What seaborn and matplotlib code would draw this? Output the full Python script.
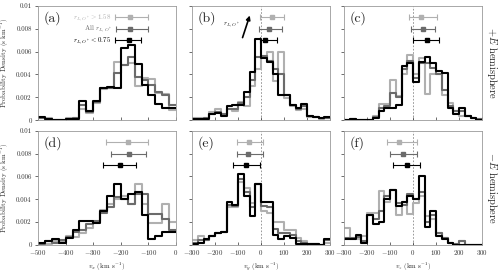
import numpy as np
import pandas as pd
import seaborn as sns
import matplotlib.pyplot as plt

# Histogramm-Werte (Wahrscheinlichkeitsdichte je Bin, Binbreite 25 km/s)
# Panel (a): v_x von -500 bis 0, +E Hemisphaere
a_light = [0.0002, 0.0002, 0.0, 0.0, 0.0002, 0.0002, 0.0010, 0.0006, 0.0015, 0.0027,
           0.0028, 0.0051, 0.0048, 0.0050, 0.0030, 0.0037, 0.0036, 0.0024, 0.0023, 0.0009]
a_dark = [0.0002, 0.0001, 0.0, 0.0, 0.0001, 0.0002, 0.0013, 0.0007, 0.0016, 0.0028,
          0.0028, 0.0041, 0.0048, 0.0055, 0.0038, 0.0035, 0.0031, 0.0025, 0.0022, 0.0013]
a_black = [0.0003, 0.0001, 0.0, 0.0, 0.0001, 0.0001, 0.0017, 0.0008, 0.0017, 0.0028,
           0.0029, 0.0028, 0.0063, 0.0066, 0.0049, 0.0031, 0.0022, 0.0014, 0.0011, 0.0011]

# Panel (b): v_y von -300 bis 300
b_light = [0.0002, 0.0002, 0.0002, 0.0007, 0.0010, 0.0005, 0.0010, 0.0008, 0.0016, 0.0012,
           0.0030, 0.0045, 0.0055, 0.0060, 0.0034, 0.0060, 0.0019, 0.0012, 0.0009, 0.0010,
           0.0003, 0.0003, 0.0001, 0.0002]
b_dark = [0.0001, 0.0001, 0.0002, 0.0005, 0.0007, 0.0005, 0.0010, 0.0010, 0.0015, 0.0020,
          0.0035, 0.0055, 0.0056, 0.0052, 0.0045, 0.0040, 0.0022, 0.0013, 0.0010, 0.0012,
          0.0004, 0.0003, 0.0002, 0.0002]
b_black = [0.0001, 0.0001, 0.0001, 0.0005, 0.0006, 0.0004, 0.0012, 0.0013, 0.0013, 0.0025,
           0.0042, 0.0071, 0.0054, 0.0051, 0.0040, 0.0022, 0.0022, 0.0013, 0.0011, 0.0014,
           0.0004, 0.0003, 0.0002, 0.0003]

# Panel (c): v_z von -300 bis 300
c_light = [0.0, 0.0001, 0.0, 0.0, 0.0, 0.0004, 0.0014, 0.0014, 0.0035, 0.0021,
           0.0040, 0.0057, 0.0040, 0.0054, 0.0023, 0.0040, 0.0040, 0.0022, 0.0015, 0.0008,
           0.0004, 0.0004, 0.0002, 0.0001]
c_dark = [0.0, 0.0001, 0.0, 0.0, 0.0, 0.0003, 0.0011, 0.0012, 0.0024, 0.0020,
          0.0045, 0.0052, 0.0037, 0.0050, 0.0050, 0.0046, 0.0040, 0.0026, 0.0012, 0.0008,
          0.0008, 0.0004, 0.0002, 0.0001]
c_black = [0.0, 0.0001, 0.0, 0.0, 0.0, 0.0002, 0.0008, 0.0011, 0.0011, 0.0013,
           0.0047, 0.0050, 0.0033, 0.0051, 0.0055, 0.0050, 0.0043, 0.0041, 0.0011, 0.0005,
           0.0011, 0.0004, 0.0002, 0.0]

# Panel (d): v_x, -E Hemisphaere
d_light = [0.0001, 0.0001, 0.0003, 0.0003, 0.0008, 0.0007, 0.0010, 0.0015, 0.0020, 0.0031,
           0.0036, 0.0040, 0.0043, 0.0036, 0.0053, 0.0036, 0.0019, 0.0019, 0.0036, 0.0020]
d_dark = [0.0001, 0.0003, 0.0002, 0.0004, 0.0007, 0.0011, 0.0013, 0.0018, 0.0021, 0.0028,
          0.0033, 0.0042, 0.0040, 0.0036, 0.0045, 0.0045, 0.0027, 0.0027, 0.0023, 0.0013]
d_black = [0.0002, 0.0003, 0.0005, 0.0002, 0.0006, 0.0013, 0.0021, 0.0021, 0.0019, 0.0030,
           0.0043, 0.0053, 0.0040, 0.0045, 0.0046, 0.0026, 0.0005, 0.0008, 0.0011, 0.0011]

# Panel (e): v_y, -E Hemisphaere
e_light = [0.0004, 0.0008, 0.0004, 0.0008, 0.0010, 0.0011, 0.0033, 0.0033, 0.0055, 0.0050,
           0.0037, 0.0053, 0.0030, 0.0028, 0.0020, 0.0020, 0.0013, 0.0013, 0.0006, 0.0003,
           0.0001, 0.0001, 0.0, 0.0002]
e_dark = [0.0002, 0.0004, 0.0004, 0.0008, 0.0010, 0.0011, 0.0035, 0.0034, 0.0058, 0.0046,
          0.0033, 0.0053, 0.0034, 0.0033, 0.0014, 0.0010, 0.0010, 0.0009, 0.0003, 0.0002,
          0.0001, 0.0001, 0.0, 0.0004]
e_black = [0.0001, 0.0002, 0.0005, 0.0008, 0.0010, 0.0011, 0.0038, 0.0035, 0.0062, 0.0043,
           0.0025, 0.0053, 0.0038, 0.0038, 0.0009, 0.0005, 0.0008, 0.0006, 0.0001, 0.0001,
           0.0001, 0.0001, 0.0, 0.0005]

# Panel (f): v_z, -E Hemisphaere
f_light = [0.0015, 0.0005, 0.0005, 0.0008, 0.0028, 0.0028, 0.0047, 0.0038, 0.0048, 0.0026,
           0.0038, 0.0027, 0.0037, 0.0043, 0.0025, 0.0023, 0.0010, 0.0006, 0.0002, 0.0001,
           0.0003, 0.0, 0.0, 0.0]
f_dark = [0.0006, 0.0006, 0.0007, 0.0003, 0.0026, 0.0023, 0.0030, 0.0043, 0.0048, 0.0037,
          0.0035, 0.0045, 0.0040, 0.0046, 0.0020, 0.0026, 0.0010, 0.0006, 0.0002, 0.0001,
          0.0003, 0.0, 0.0, 0.0]
f_black = [0.0005, 0.0005, 0.0009, 0.0002, 0.0026, 0.0018, 0.0020, 0.0040, 0.0048, 0.0034,
           0.0038, 0.0043, 0.0040, 0.0060, 0.0016, 0.0030, 0.0008, 0.0005, 0.0002, 0.0,
           0.0, 0.0, 0.0, 0.0]

# Mittelwerte mit Fehlerbalken [r > 1.58, alle, r < 0.75]
err_levels = [0.009, 0.008, 0.007]
a_mid = [-167, -167, -169]
a_lo = [-221, -217, -221]
a_hi = [-101, -101, -128]
b_mid = [47, 36, 17]
b_lo = [-4, -10, -4]
b_hi = [100, 90, 68]
c_mid = [35, 42, 59]
c_lo = [-16, -10, -1]
c_hi = [106, 96, 113]
d_mid = [-173, -170, -203]
d_lo = [-254, -236, -266]
d_hi = [-103, -110, -145]
e_mid = [-51, -55, -65]
e_lo = [-103, -106, -123]
e_hi = [7, 7, -4]
f_mid = [-61, -42, -25]
f_lo = [-112, -100, -86]
f_hi = [19, 19, 30]

panel_letters = ["(a)", "(b)", "(c)", "(d)", "(e)", "(f)"]
series_names = ["$r_{L,O^*} > 1.58$", "All $r_{L,O^*}$", "$r_{L,O^*} < 0.75$"]
xlabels = ["$v_x$ (km s$^{-1}$)", "$v_y$ (km s$^{-1}$)", "$v_z$ (km s$^{-1}$)"]
row_labels = ["$+E$ hemisphere", "$-E$ hemisphere"]
yticks = [0, 0.002, 0.004, 0.006, 0.008, 0.01]
ytick_labels = ["0", "0.002", "0.004", "0.006", "0.008", "0.01"]
xticks_x = [-500, -400, -300, -200, -100, 0]
xticks_yz = [-300, -200, -100, 0, 100, 200, 300]

colors = ["#b0b0b0", "#6b6b6b", "#000000"]

sns.set_style("ticks")
plt.rcParams["font.family"] = "serif"
plt.rcParams["font.serif"] = ["cmr10", "DejaVu Serif"]
plt.rcParams["mathtext.fontset"] = "cm"
plt.rcParams["axes.unicode_minus"] = False
plt.rcParams["axes.formatter.use_mathtext"] = True

fig = plt.figure(figsize=(5, 2.73), dpi=100)
lefts = [0.076, 0.384, 0.688]
bottoms = [0.56, 0.103]
w, h = 0.276, 0.418

hists = [[a_light, a_dark, a_black], [b_light, b_dark, b_black], [c_light, c_dark, c_black],
         [d_light, d_dark, d_black], [e_light, e_dark, e_black], [f_light, f_dark, f_black]]
errs = [(a_mid, a_lo, a_hi), (b_mid, b_lo, b_hi), (c_mid, c_lo, c_hi),
        (d_mid, d_lo, d_hi), (e_mid, e_lo, e_hi), (f_mid, f_lo, f_hi)]

for i in range(6):
    row, col = divmod(i, 3)
    ax = fig.add_axes([lefts[col], bottoms[row], w, h])
    if col == 0:
        xmin, xmax, xt = -500, 0, xticks_x
    else:
        xmin, xmax, xt = -300, 300, xticks_yz
    centers = np.arange(xmin, xmax, 25) + 12.5

    # Histogramme als Stufenlinie
    for vals, c in zip(hists[i], colors):
        df = pd.DataFrame({"v": centers, "p": vals})
        sns.histplot(data=df, x="v", weights="p", binwidth=25, binrange=(xmin, xmax),
                     element="step", fill=False, color=c, lw=1.5, ax=ax)

    if col > 0:
        ax.axvline(0, color="#888888", ls=(0, (2, 2)), lw=0.6, zorder=0)

    # Fehlerbalken oben
    mid, lo, hi = errs[i]
    for k in range(3):
        ax.errorbar(mid[k], err_levels[k],
                    xerr=[[mid[k] - lo[k]], [hi[k] - mid[k]]],
                    fmt="s", color=colors[k], ms=3, elinewidth=0.8,
                    capsize=2, capthick=0.8)
        if i == 0:
            ax.text(lo[k] - 12, err_levels[k], series_names[k], color=colors[k],
                    fontsize=5, ha="right", va="center")

    ax.set_xlim(xmin, xmax)
    ax.set_ylim(0, 0.01)
    ax.set_yticks(yticks)
    ax.set_xticks(xt)
    ax.set_ylabel("")
    ax.set_xlabel("")
    ax.text(0.04, 0.95, panel_letters[i], transform=ax.transAxes, fontsize=10,
            ha="left", va="top")

    if col == 0:
        ax.set_yticklabels(ytick_labels)
        ax.set_ylabel("Probability Density (s km$^{-1}$)", fontsize=5, labelpad=4)
    else:
        ax.set_yticklabels([])
    if row == 1:
        ax.set_xticklabels(["$%d$" % t for t in xt])
        ax.set_xlabel(xlabels[col], fontsize=5, labelpad=3)
    else:
        ax.set_xticklabels([])
    if col == 2:
        ax.text(1.07, 0.5, row_labels[row], transform=ax.transAxes, fontsize=7.5,
                rotation=270, ha="center", va="center")

    ax.tick_params(axis="both", labelsize=5, length=2.5, width=0.5,
                   colors="#333333", pad=2)
    ax.tick_params(axis="x", direction="in")
    for s in ax.spines.values():
        s.set_color("#9a9a9a")
        s.set_linewidth(0.6)

    if i == 1:
        ax.annotate("", xy=(-45, 0.0094), xytext=(-84, 0.0070),
                    arrowprops=dict(arrowstyle="-|>", color="black", lw=1.2,
                                    mutation_scale=6))
        ax.text(-130, 0.0084, "$r_{L,O^*}$", fontsize=5, ha="center", va="center")

fig.savefig("out.png", dpi=100)
